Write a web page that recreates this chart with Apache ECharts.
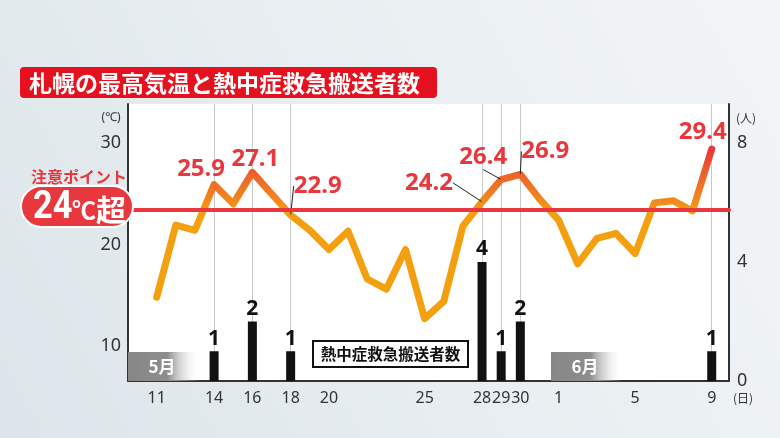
<!DOCTYPE html>
<html><head><meta charset="utf-8">
<script src="https://cdn.jsdelivr.net/npm/echarts@6/dist/echarts.min.js"></script>
<style>html,body{margin:0;padding:0;background:#e8eef2;}#c{width:780px;height:438px;}</style>
</head><body><div id="c"></div>
<script>
// ---- data ----
const days = ['11','12','13','14','15','16','17','18','19','20','21','22','23','24','25','26','27','28','29','30','31',
              '1','2','3','4','5','6','7','8','9'];
const maxTemp = [14.8,21.9,21.4,25.9,24.0,27.1,25.0,22.9,21.4,19.5,21.3,16.6,15.6,19.5,12.7,14.4,21.8,24.2,26.4,26.9,24.5,
                 22.4,18.1,20.6,21.1,19.1,24.1,24.3,23.3,29.4];
const transports = [0,0,0,1,0,2,0,1,0,0,0,0,0,0,0,0,0,4,1,2,0,
                    0,0,0,0,0,0,0,0,1];
const tickDays = ['11','14','16','18','20','25','28','29','30','1','5','9'];
const tempTicks = [10,20,30];
const countTicks = [0,4,8];
const alertTemp = 23.4;

// ---- styling / layout (not data) ----
const TEMP_MIN = 6.55, TEMP_MAX = 33.84, COUNT_MAX = 9.31;
const labelShift = {'14':[-13,-15],'16':[3,-13],'18':[27,-29],'28':[-53,-19],'29':[-18,-22],'30':[25,-23],'9':[-9,-17]};
const leaderDays = ['18','28','29','30'];
const RED = '#E8383D';
const JP = '"Noto Sans CJK JP", "Noto Sans", sans-serif';
const NUM = '"Noto Sans", "DejaVu Sans", sans-serif';

const chart = echarts.init(document.getElementById('c'), null, {renderer:'canvas'});

const tempData = maxTemp.map((v,i) => ({
  value: v,
  label: {show: transports[i] > 0},
  labelLine: {show: leaderDays.includes(days[i]), lineStyle:{color:'#222', width:1}}
}));

const option = {
  animation: false,
  backgroundColor: {type:'linear', x:0, y:1, x2:1, y2:0, colorStops:[
    {offset:0, color:'#dde5ea'}, {offset:0.5, color:'#e8eef1'}, {offset:1, color:'#f2f5f7'}]},
  grid: [
    {left:128, right:51, top:104, bottom:57, show:true, backgroundColor:'#ffffff', borderWidth:0, outerBoundsMode:'none', containLabel:false},
    {left:147.1, right:58.7, top:104, bottom:57, outerBoundsMode:'none', containLabel:false}
  ],
  xAxis: [
    {gridIndex:0, type:'value', min:0, max:1, axisLabel:{show:false}, axisTick:{show:false}, splitLine:{show:false},
     axisLine:{show:true, onZero:false, lineStyle:{color:'#333', width:2}}},
    {gridIndex:1, type:'category', data: days, boundaryGap:true,
     axisLine:{show:false}, axisTick:{show:false}, splitLine:{show:false},
     axisLabel:{interval:0, margin:9, color:'#333', fontSize:16, fontFamily:NUM,
       formatter: v => tickDays.includes(v) ? v : ''}}
  ],
  yAxis: [
    {gridIndex:0, type:'value', position:'left', min:TEMP_MIN, max:TEMP_MAX, splitNumber:5,
     axisLine:{show:true, onZero:false, lineStyle:{color:'#333', width:2}}, axisTick:{show:false}, splitLine:{show:false},
     axisLabel:{margin:7, color:'#333', fontSize:18, fontFamily:NUM, showMinLabel:true, showMaxLabel:true,
       formatter: v => { const r = Math.round(v*1000)/1000; return tempTicks.includes(r) ? String(r) : ''; }}},
    {gridIndex:0, type:'value', position:'right', min:0, max:COUNT_MAX, interval:4,
     axisLine:{show:true, onZero:false, lineStyle:{color:'#333', width:2}}, axisTick:{show:false}, splitLine:{show:false},
     axisLabel:{margin:8, color:'#333', fontSize:18, fontFamily:NUM,
       formatter: v => { const r = Math.round(v*1000)/1000; return countTicks.includes(r) ? String(r) : ''; }}},
    {gridIndex:1, type:'value', min:TEMP_MIN, max:TEMP_MAX, show:false},
    {gridIndex:1, type:'value', min:0, max:COUNT_MAX, show:false}
  ],
  visualMap: {type:'continuous', show:false, seriesIndex:1, dimension:1, min:23, max:29.4,
    inRange:{color:['#F4A00E','#F07C22','#EC5C2E','#E8383D']}},
  series: [
    {type:'bar', name:'熱中症救急搬送者数', xAxisIndex:1, yAxisIndex:3, data: transports, barWidth:9,
     itemStyle:{color:'#111'},
     label:{show:true, position:'top', distance:2, color:'#111', fontSize:21, fontWeight:'bold', fontFamily:NUM,
       formatter: p => p.value > 0 ? String(p.value) : ''},
     markLine:{silent:true, z:1, symbol:['none','none'], animation:false, label:{show:false},
       lineStyle:{color:'#c8c8c8', width:1, type:'solid'},
       data: days.filter((d,i) => transports[i] > 0).map(d => ({xAxis: d}))}},
    {type:'line', name:'最高気温', xAxisIndex:1, yAxisIndex:2, data: tempData, z:3,
     symbol:'circle', symbolSize:1, showSymbol:true,
     lineStyle:{width:7, cap:'round', join:'round'},
     label:{position:'inside', color:RED, fontSize:24, fontWeight:'bold', fontFamily:NUM, formatter: p => p.value.toFixed(1)},
     labelLine:{show:false},
     labelLayout: p => { const s = labelShift[days[p.dataIndex]]; return s ? {dx:s[0], dy:s[1]} : {}; }},
    {type:'line', name:'注意ポイント', xAxisIndex:0, yAxisIndex:0, z:4, silent:true,
     data: [[0, alertTemp],[1, alertTemp]], symbol:'none',
     lineStyle:{color:RED, width:4, cap:'round'}}
  ],
  graphic: [
    {type:'rect', shape:{x:20, y:67, width:417, height:31, r:4}, style:{fill:'#E5111E'}, z:10},
    {type:'text', x:29, y:83, z:11, style:{text:'札幌の最高気温と熱中症救急搬送者数', fill:'#fff',
      font:'bold 23px ' + JP, verticalAlign:'middle', align:'left'}},
    {type:'text', x:111, y:118, z:11, style:{text:'(℃)', fill:'#333', font:'12px ' + NUM, align:'center', verticalAlign:'middle'}},
    {type:'text', x:746, y:118, z:11, style:{text:'(人)', fill:'#333', font:'12px ' + JP, align:'center', verticalAlign:'middle'}},
    {type:'text', x:743, y:398, z:11, style:{text:'(日)', fill:'#333', font:'12px ' + JP, align:'center', verticalAlign:'middle'}},
    {type:'text', x:31, y:177, z:11, style:{text:'注意ポイント', fill:RED, font:'bold 16px ' + JP, align:'left', verticalAlign:'middle'}},
    {type:'rect', shape:{x:21, y:186, width:112, height:41, r:20.5}, style:{fill:RED, stroke:'#fff', lineWidth:2}, z:10},
    {type:'text', x:33, y:208, scaleX:0.88, z:11, style:{text:'24', fill:'#fff', font:'bold 39px Roboto, ' + NUM, align:'left', verticalAlign:'middle'}},
    {type:'text', x:72, y:210, z:11, style:{text:'℃', fill:'#fff', font:'bold 24px ' + JP, align:'left', verticalAlign:'middle'}},
    {type:'text', x:96, y:210, z:11, style:{text:'超', fill:'#fff', font:'bold 30px ' + JP, align:'left', verticalAlign:'middle'}},
    {type:'rect', shape:{x:128, y:352, width:72, height:29},
      style:{fill:{type:'linear', x:0, y:0, x2:1, y2:0, colorStops:[{offset:0, color:'#868686'},{offset:0.55, color:'#8e8e8e'},{offset:1, color:'rgba(255,255,255,0)'}]}}, z:10},
    {type:'text', x:162, y:367, z:11, style:{text:'5月', fill:'#fff', font:'bold 17px ' + JP, align:'center', verticalAlign:'middle'}},
    {type:'rect', shape:{x:551, y:352, width:72, height:29},
      style:{fill:{type:'linear', x:0, y:0, x2:1, y2:0, colorStops:[{offset:0, color:'#868686'},{offset:0.55, color:'#8e8e8e'},{offset:1, color:'rgba(255,255,255,0)'}]}}, z:10},
    {type:'text', x:585, y:367, z:11, style:{text:'6月', fill:'#fff', font:'bold 17px ' + JP, align:'center', verticalAlign:'middle'}},
    {type:'rect', shape:{x:313, y:341, width:155, height:26}, style:{fill:'#fff', stroke:'#111', lineWidth:2}, z:10},
    {type:'text', x:390.5, y:354, z:11, style:{text:'熱中症救急搬送者数', fill:'#111', font:'bold 15.5px ' + JP, align:'center', verticalAlign:'middle'}}
  ]
};
chart.setOption(option);
</script>
</body></html>
